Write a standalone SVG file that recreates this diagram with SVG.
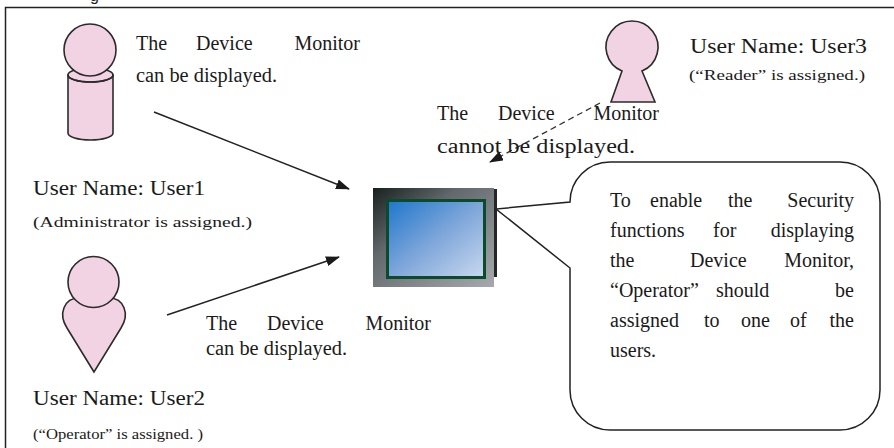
<svg xmlns="http://www.w3.org/2000/svg" width="894" height="448" viewBox="0 0 894 448">
  <style>
    .t { font-family: "Liberation Serif", "Times New Roman", serif; font-size: 20px; fill: #1a1a1a; }
    .s { font-family: "Liberation Serif", "Times New Roman", serif; font-size: 15px; fill: #1a1a1a; }
    .fig { fill: #f2d3e3; stroke: #2b2b2b; stroke-width: 1.6; }
    .line { fill: none; stroke: #222; stroke-width: 1.5; }
    .dash { fill: none; stroke: #333; stroke-width: 1.3; stroke-dasharray: 6 4; }
  </style>
  <defs>
    <marker id="arrow" viewBox="0 0 14 10" refX="13" refY="5" markerWidth="14" markerHeight="10" markerUnits="userSpaceOnUse" orient="auto">
      <path d="M0,0 L14,5 L0,10 Z" fill="#1a1a1a"/>
    </marker>
    <linearGradient id="bezel" x1="0" y1="0" x2="1" y2="1">
      <stop offset="0" stop-color="#18201f"/>
      <stop offset="0.35" stop-color="#62686b"/>
      <stop offset="1" stop-color="#a6aaae"/>
    </linearGradient>
    <linearGradient id="screen" x1="0" y1="0" x2="1" y2="1">
      <stop offset="0" stop-color="#1d76cb"/>
      <stop offset="0.5" stop-color="#7ea6da"/>
      <stop offset="1" stop-color="#cad9ef"/>
    </linearGradient>
  </defs>

  <rect width="894" height="448" fill="#ffffff"/>

  <!-- frame (continues beyond the drawn area) -->
  <path d="M5.5,448 L5.5,7.5 L894,7.5" fill="none" stroke="#222" stroke-width="1.5"/>
  <text x="90" y="1" font-family="Liberation Sans, Arial, sans-serif" font-size="16" fill="#222">g</text>

  <!-- connectors -->
  <g id="connectors">
    <line class="line" x1="154" y1="112" x2="349" y2="189" marker-end="url(#arrow)"/>
    <line class="line" x1="167" y1="315" x2="339" y2="257" marker-end="url(#arrow)"/>
    <line class="dash" x1="600" y1="103" x2="490" y2="162" marker-end="url(#arrow)"/>
  </g>

  <!-- User1: cylinder figure -->
  <g id="user1">
    <path class="fig" d="M68,75 L68,133 A22.5,7 0 0,0 113,133 L113,75 Z"/>
    <ellipse class="fig" cx="90.5" cy="75" rx="22.5" ry="7"/>
    <circle class="fig" cx="90" cy="50" r="26"/>
    <path d="M68,75 A22.5,7 0 0,0 113,75" fill="none" stroke="#2b2b2b" stroke-width="1.6"/>
    <text class="t" x="136" y="50">The</text>
    <text class="t" x="196" y="50">Device</text>
    <text class="t" x="360" y="50" text-anchor="end">Monitor</text>
    <text class="t" x="136" y="82" textLength="141" lengthAdjust="spacingAndGlyphs">can be displayed.</text>
    <text class="t" x="33" y="195" textLength="172" lengthAdjust="spacingAndGlyphs">User Name: User1</text>
    <text class="s" x="33" y="227" font-size="16" textLength="219" lengthAdjust="spacingAndGlyphs">(Administrator is assigned.)</text>
  </g>

  <!-- User2: heart-shaped figure -->
  <g id="user2">
    <path class="fig" d="M94,372 L67,328 C58,314 64,298 79,298 L109,298 C124,298 130,314 121,328 Z"/>
    <circle class="fig" cx="93.5" cy="282" r="25.5"/>
    <text class="t" x="206" y="330">The</text>
    <text class="t" x="267" y="330">Device</text>
    <text class="t" x="431" y="330" text-anchor="end">Monitor</text>
    <text class="t" x="206" y="355" textLength="141" lengthAdjust="spacingAndGlyphs">can be displayed.</text>
    <text class="t" x="33" y="405" textLength="172" lengthAdjust="spacingAndGlyphs">User Name: User2</text>
    <text class="s" x="33" y="439" font-size="14.5" textLength="170" lengthAdjust="spacingAndGlyphs">(“Operator” is assigned. )</text>
  </g>

  <!-- User3: keyhole figure -->
  <g id="user3">
    <path class="fig" d="M622,71 A26,26 0 1,1 642,71 L655,102 L611,102 Z"/>
    <text class="t" x="690" y="53" textLength="177" lengthAdjust="spacingAndGlyphs">User Name: User3</text>
    <text class="s" x="689" y="80" font-size="14" textLength="176" lengthAdjust="spacingAndGlyphs">(“Reader” is assigned.)</text>
    <text class="t" x="437" y="120">The</text>
    <text class="t" x="498" y="120">Device</text>
    <text class="t" x="659" y="120" text-anchor="end">Monitor</text>
    <text class="t" x="437" y="153" textLength="198" lengthAdjust="spacingAndGlyphs">cannot be displayed.</text>
  </g>

  <!-- Device Monitor screen -->
  <g id="monitor">
    <rect x="373" y="188" width="121" height="99" fill="url(#bezel)"/>
    <rect x="494" y="189" width="3" height="88" fill="#262626"/>
    <rect x="387.5" y="200.5" width="97" height="77" fill="url(#screen)" stroke="#0b4a2a" stroke-width="3"/>
  </g>

  <!-- Note callout -->
  <g id="note">
    <path d="M570,268 L496,209 L570,202 A40,40 0 0,1 610,162 L840,162 A40,40 0 0,1 880,202 L880,390 A40,40 0 0,1 840,430 L610,430 A40,40 0 0,1 570,390 Z" fill="#ffffff" stroke="#222" stroke-width="1.5"/>
    <text class="t" x="610" y="207">To</text>
    <text class="t" x="650" y="207">enable</text>
    <text class="t" x="728" y="207">the</text>
    <text class="t" x="854" y="207" text-anchor="end">Security</text>
    <text class="t" x="610" y="237">functions</text>
    <text class="t" x="713" y="237">for</text>
    <text class="t" x="854" y="237" text-anchor="end">displaying</text>
    <text class="t" x="610" y="267">the</text>
    <text class="t" x="690" y="267">Device</text>
    <text class="t" x="854" y="267" text-anchor="end">Monitor,</text>
    <text class="t" x="610" y="297">“Operator”</text>
    <text class="t" x="716" y="297">should</text>
    <text class="t" x="854" y="297" text-anchor="end">be</text>
    <text class="t" x="610" y="327">assigned</text>
    <text class="t" x="704" y="327">to</text>
    <text class="t" x="741" y="327">one</text>
    <text class="t" x="790" y="327">of</text>
    <text class="t" x="854" y="327" text-anchor="end">the</text>
    <text class="t" x="610" y="357">users.</text>
  </g>
</svg>
